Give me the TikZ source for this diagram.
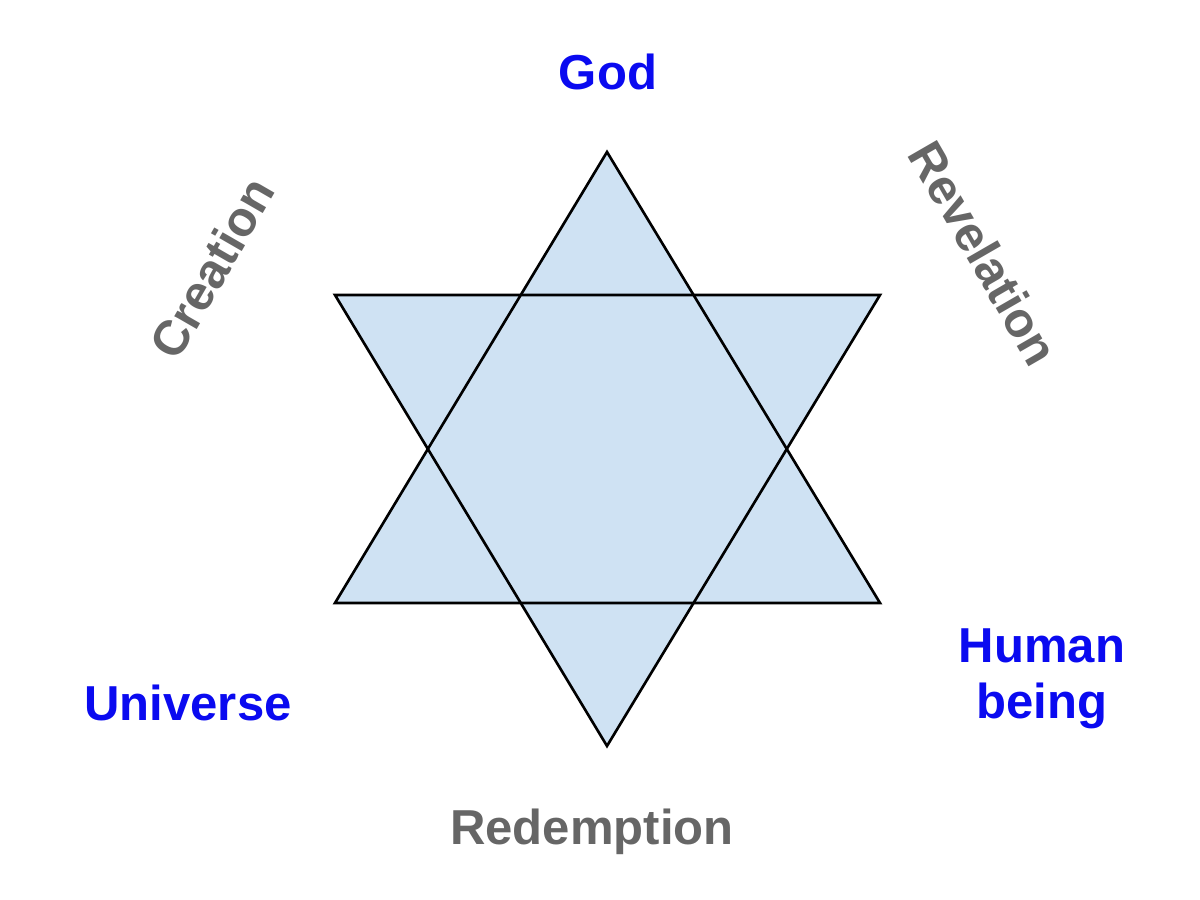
\documentclass[tikz,border=0pt]{standalone}
\usepackage{fontspec}
\setmainfont{Liberation Sans}
\usepackage{xcolor}
\definecolor{starfill}{RGB}{207, 226, 243}
\definecolor{namblue}{RGB}{10, 10, 240}
\definecolor{pathgray}{RGB}{102, 102, 102}
\usetikzlibrary{positioning, calc}

\begin{document}
\begin{tikzpicture}[
    x=0.01cm, y=0.01cm,
    tri/.style={draw=black, line width=0.75pt, line join=miter},
    being/.style={text=namblue, font=\fontsize{13.95pt}{16pt}\selectfont\bfseries, align=center},
    way/.style={text=pathgray, font=\fontsize{13.95pt}{16pt}\selectfont\bfseries}
]
    \useasboundingbox (0, 0) rectangle (1200, 900);

    % Star corners
    \coordinate (up) at (607, 748);
    \coordinate (upl) at (335, 297);
    \coordinate (upr) at (880, 297);
    \coordinate (dn) at (607, 154);
    \coordinate (dnl) at (335, 605);
    \coordinate (dnr) at (880, 605);

    % Two triangles, fills first, then outlines
    \fill[starfill] (up) -- (upl) -- (upr) -- cycle;
    \fill[starfill] (dn) -- (dnl) -- (dnr) -- cycle;
    \draw[tri] (up) -- (upl) -- (upr) -- cycle;
    \draw[tri] (dn) -- (dnl) -- (dnr) -- cycle;

    % Corners of the triad
    \node[being] (god) at (608, 828) {God};
    \node[being] (universe) at (188, 197) {Universe};
    \node[being] (human) at (1042, 221) {Human\\being};

    % Relations between them
    \node[way, rotate=60] (creation) at (212, 632) {Creation};
    \node[way, rotate=-60] (revelation) at (984, 647) {Revelation};
    \node[way] (redemption) at (592, 68) {Redemption};
\end{tikzpicture}
\end{document}
